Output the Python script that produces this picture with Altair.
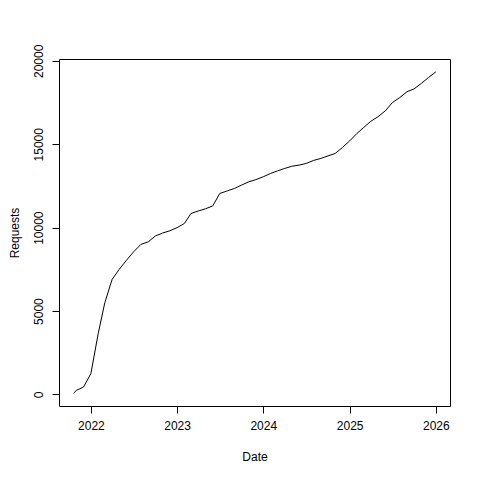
import altair as alt
import pandas as pd

dates = ["2021-10-20", "2021-11-01", "2021-12-01",
         "2022-01-01", "2022-02-01", "2022-03-01", "2022-04-01", "2022-05-01", "2022-06-01",
         "2022-07-01", "2022-08-01", "2022-09-01", "2022-10-01", "2022-11-01", "2022-12-01",
         "2023-01-01", "2023-02-01", "2023-03-01", "2023-04-01", "2023-05-01", "2023-06-01",
         "2023-07-01", "2023-08-01", "2023-09-01", "2023-10-01", "2023-11-01", "2023-12-01",
         "2024-01-01", "2024-02-01", "2024-03-01", "2024-04-01", "2024-05-01", "2024-06-01",
         "2024-07-01", "2024-08-01", "2024-09-01", "2024-10-01", "2024-11-01", "2024-12-01",
         "2025-01-01", "2025-02-01", "2025-03-01", "2025-04-01", "2025-05-01", "2025-06-01",
         "2025-07-01", "2025-08-01", "2025-09-01", "2025-10-01", "2025-11-01", "2025-12-01",
         "2026-01-01"]
requests = [80, 250, 450,
            1250, 3650, 5500, 6900, 7500, 8050,
            8550, 9000, 9150, 9500, 9680, 9810,
            10000, 10250, 10850, 11000, 11130, 11300,
            12050, 12200, 12350, 12550, 12750, 12880,
            13050, 13250, 13400, 13550, 13680, 13750,
            13850, 14030, 14150, 14300, 14450, 14800,
            15200, 15650, 16000, 16380, 16650, 17000,
            17500, 17800, 18150, 18320, 18650, 19000,
            19340]
year_ticks = [2022, 2023, 2024, 2025, 2026]
y_ticks = [0, 5000, 10000, 15000, 20000]

df = pd.DataFrame({"Date": dates, "Requests": requests})

FONT = "Liberation Sans"

chart = alt.Chart(df).mark_line(color="black", strokeWidth=1).encode(
    x=alt.X("Date:T",
            scale=alt.Scale(domain=["2021-08-19", "2026-03-02"], nice=False),
            axis=alt.Axis(values=[alt.DateTime(year=y, month=1, date=1) for y in year_ticks],
                          format="%Y", grid=False, domain=False,
                          tickSize=7, tickColor="black", labelPadding=7,
                          labelColor="black", labelFontSize=12, labelFont=FONT,
                          title="Date", titleFont=FONT, titleFontSize=12,
                          titleFontWeight="normal", titleColor="black",
                          titlePadding=20)),
    y=alt.Y("Requests:Q",
            scale=alt.Scale(domain=[-690, 20110], nice=False, zero=False),
            axis=alt.Axis(values=y_ticks, grid=False, domain=False, format="d",
                          tickSize=7, tickColor="black", labelPadding=7,
                          labelAngle=270, labelAlign="center", labelBaseline="bottom",
                          labelColor="black", labelFontSize=12, labelFont=FONT,
                          title="Requests", titleFont=FONT, titleFontSize=12,
                          titleFontWeight="normal", titleColor="black",
                          titlePadding=11)),
).properties(
    width=391, height=347,
    background="white",
    autosize=alt.AutoSizeParams(type="none"),
    padding={"left": 51, "top": 51, "right": 22, "bottom": 66},
).configure_view(stroke="black", strokeWidth=1)

chart.save("out.html", embed_options={"renderer": "svg", "actions": False})
